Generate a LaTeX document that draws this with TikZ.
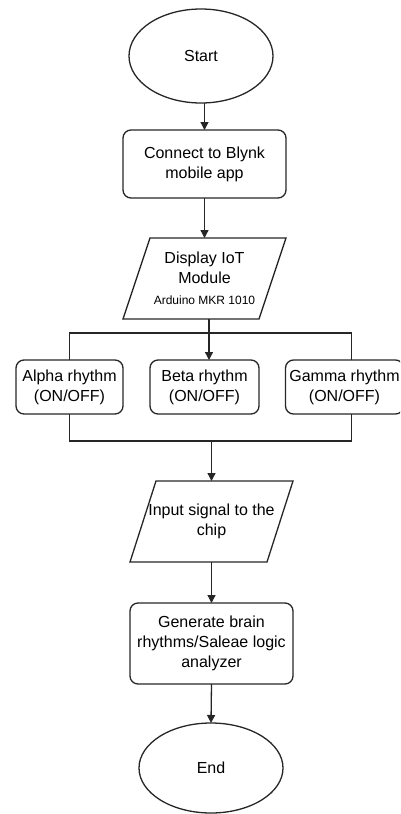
\documentclass[tikz,border=0pt]{standalone}
\usepackage{fontspec}
\setmainfont{Liberation Sans}
\usetikzlibrary{shapes.geometric,arrows.meta,calc}
\begin{document}
\begin{tikzpicture}[x=1pt,y=-1pt,
  every node/.style={font=\fontsize{16}{20}\selectfont, align=center, outer sep=0pt, inner sep=0pt},
  line/.style={draw=black!85, line width=1.3pt},
  arr/.style={line, -{Triangle[length=8pt,width=8pt]}},
  term/.style={ellipse, line},
  proc/.style={rectangle, rounded corners=8pt, line},
  iobox/.style={rectangle}
]
\useasboundingbox (0,0) rectangle (400,814);
\clip (0,0) rectangle (400,814);

\node[term, minimum width=144pt, minimum height=94pt] (start) at (201,56) {Start};
\node[proc, minimum width=163pt, minimum height=68pt] (conn) at (204.5,164) {Connect to Blynk\\mobile app};
\node[iobox, minimum width=163pt, minimum height=81pt] (disp) at (204.5,278.5)
  {\fontsize{16}{18}\selectfont Display IoT\\Module\\[1pt]{\fontsize{12}{14}\selectfont Arduino MKR 1010}};
\draw[line] ($(disp.north west)+(27,0)$) -- (disp.north east) -- ($(disp.south east)-(27,0)$) -- (disp.south west) -- cycle;

\node[proc, minimum width=107pt, minimum height=54pt] (alpha) at (69.5,387) {Alpha rhythm\\(ON/OFF)};
\node[proc, minimum width=109pt, minimum height=54pt] (beta) at (204.5,387) {Beta rhythm\\(ON/OFF)};
\node[proc, minimum width=118pt, minimum height=54pt] (gamma) at (344.5,387) {Gamma rhythm\\(ON/OFF)};

\node[iobox, minimum width=163pt, minimum height=81pt] (inp) at (211.5,521.5) {Input signal to the\\chip};
\draw[line] ($(inp.north west)+(26,0)$) -- (inp.north east) -- ($(inp.south east)-(26,0)$) -- (inp.south west) -- cycle;

\node[proc, minimum width=163pt, minimum height=81pt] (gen) at (211.5,643.5) {Generate brain\\rhythms/Saleae logic\\analyzer};
\node[term, minimum width=144pt, minimum height=90pt] (end) at (211,768) {End};

\coordinate (tb) at (0,333);
\coordinate (bb) at (0,441);
\coordinate (gx) at (351.5,0);
\coordinate (dsplit) at ($(disp.south)+(4.5,0)$);
\coordinate (join) at (211.5,441);

\draw[arr] (conn.north |- start.south) -- (conn.north);
\draw[arr] (conn.south) -- (disp.north);
\draw[line] (alpha.north) -- (alpha.north |- tb) -- (gx |- tb) -- (gx |- gamma.north);
\draw[arr] (dsplit) -- (dsplit |- beta.north);
\draw[line] (alpha.south) -- (alpha.south |- bb) -- (gx |- bb) -- (gx |- gamma.south);
\draw[arr] (join) -- (inp.north);
\draw[arr] (inp.south) -- (gen.north);
\draw[arr] (gen.south) -- (end.north);
\end{tikzpicture}
\end{document}
